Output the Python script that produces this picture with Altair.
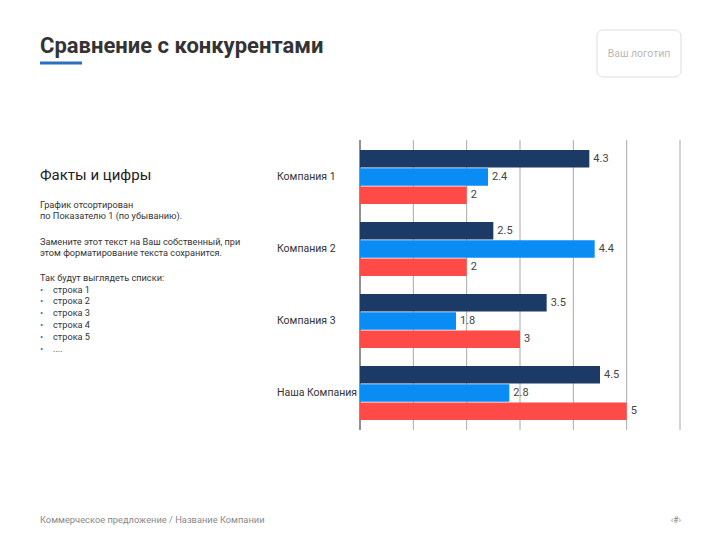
import altair as alt
import pandas as pd

# ---- data ----
companies = ["Компания 1", "Компания 2", "Компания 3", "Наша Компания"]
series = ["Показатель 1", "Показатель 2", "Показатель 3"]
values_1 = [4.3, 2.5, 3.5, 4.5]
values_2 = [2.4, 4.4, 1.8, 2.8]
values_3 = [2, 2, 3, 5]
ticks = [0, 1, 2, 3, 4, 5, 6]
colors = ["#1b3b66", "#0a8cf5", "#ff4b47"]

title = "Сравнение с конкурентами"
logo = "Ваш логотип"
side_heading = "Факты и цифры"
para1 = ["График отсортирован", "по Показателю 1 (по убыванию)."]
para2 = ["Замените этот текст на Ваш собственный, при",
         "этом форматирование текста сохранится."]
para3 = ["Так будут выглядеть списки:"]
list_items = ["строка 1", "строка 2", "строка 3", "строка 4", "строка 5", "...."]
footer = "Коммерческое предложение / Название Компании"
page_no = "‹#›"

rows = []
for s, vals in zip(series, [values_1, values_2, values_3]):
    for c, v in zip(companies, vals):
        lab = str(int(v)) if float(v).is_integer() else str(v)
        rows.append({"company": c, "series": s, "value": v, "label": lab})
df = pd.DataFrame(rows)
df_ticks = pd.DataFrame({"t": ticks})
df_comp = pd.DataFrame({"company": companies})

FONT = "Roboto"

xscale = alt.Scale(domain=[0, 6], range=[352, 672], nice=False, zero=True)
yscale = alt.Scale(domain=companies, range=[132, 422], paddingInner=0.25, paddingOuter=0.14)
yoff = alt.Scale(domain=series, paddingInner=0.04)

grid = alt.Chart(df_ticks).mark_rule(strokeWidth=1).encode(
    x=alt.X("t:Q", scale=xscale, axis=None),
    y=alt.value(132), y2=alt.value(422),
    color=alt.condition("datum.t == 0", alt.value("#222222"), alt.value("#a8a8a8")),
)

bars = alt.Chart(df).mark_bar().encode(
    x=alt.X("value:Q", scale=xscale, axis=None),
    y=alt.Y("company:N", scale=yscale, sort=companies, axis=None),
    yOffset=alt.YOffset("series:N", scale=yoff, sort=series),
    color=alt.Color("series:N", scale=alt.Scale(domain=series, range=colors), legend=None),
)

vlabels = alt.Chart(df).mark_text(align="left", baseline="middle", dx=4, fontSize=11,
                                  font=FONT, color="#444444").encode(
    x=alt.X("value:Q", scale=xscale, axis=None),
    y=alt.Y("company:N", scale=yscale, sort=companies, axis=None),
    yOffset=alt.YOffset("series:N", scale=yoff, sort=series),
    text="label:N",
)

clabels = alt.Chart(df_comp).mark_text(align="left", baseline="middle", fontSize=10.5,
                                       font=FONT, color="#333333").encode(
    x=alt.value(269),
    y=alt.Y("company:N", scale=yscale, sort=companies, axis=None),
    text="company:N",
)

def static_text(txt, x, y, **kw):
    return alt.Chart(alt.Data(values=[{"t": txt}])).mark_text(font=FONT, **kw).encode(
        x=alt.value(x), y=alt.value(y), text="t:N")

title_l = static_text(title, 32, 45, align="left", baseline="alphabetic",
                      fontSize=22, fontWeight="bold", color="#333333")
underline = alt.Chart(alt.Data(values=[{}])).mark_rule(strokeWidth=3, color="#2b70bd").encode(
    x=alt.value(32), x2=alt.value(74), y=alt.value(55))
logo_box = alt.Chart(alt.Data(values=[{}])).mark_rect(
    fillOpacity=0, stroke="#dddddd", strokeWidth=1, cornerRadius=6).encode(
    x=alt.value(589), x2=alt.value(673), y=alt.value(22), y2=alt.value(69))
logo_t = static_text(logo, 631, 46, align="center", baseline="middle",
                     fontSize=10.5, color="#b8b8b8")
heading = static_text(side_heading, 32, 167, align="left", baseline="middle",
                      fontSize=15, color="#222222")
p1 = static_text(para1, 32, 199.5, align="left", baseline="alphabetic",
                 fontSize=9.2, lineHeight=11.5, color="#333333")
p2 = static_text(para2, 32, 236.5, align="left", baseline="alphabetic",
                 fontSize=9.2, lineHeight=11.5, color="#333333")
p3 = static_text(para3, 32, 272.5, align="left", baseline="alphabetic",
                 fontSize=9.2, lineHeight=11.8, color="#333333")
bul = static_text(["•"] * len(list_items), 32, 284.5, align="left", baseline="alphabetic",
                  fontSize=9.2, lineHeight=11.8, color="#2b70bd")
items = static_text(list_items, 45, 284.5, align="left", baseline="alphabetic",
                    fontSize=9.2, lineHeight=11.8, color="#333333")
foot = static_text(footer, 32, 512, align="left", baseline="middle",
                   fontSize=9.3, color="#888888")
pg = static_text(page_no, 673, 512, align="right", baseline="middle",
                 fontSize=8.5, color="#888888")

chart = alt.layer(
    grid, bars, vlabels, clabels, title_l, underline, logo_box, logo_t,
    heading, p1, p2, p3, bul, items, foot, pg
).properties(
    width=704, height=524, padding=0,
    autosize=alt.AutoSizeParams(type="none"),
).configure_view(stroke=None)

chart.save("out.html", embed_options={"renderer": "svg", "actions": False})
